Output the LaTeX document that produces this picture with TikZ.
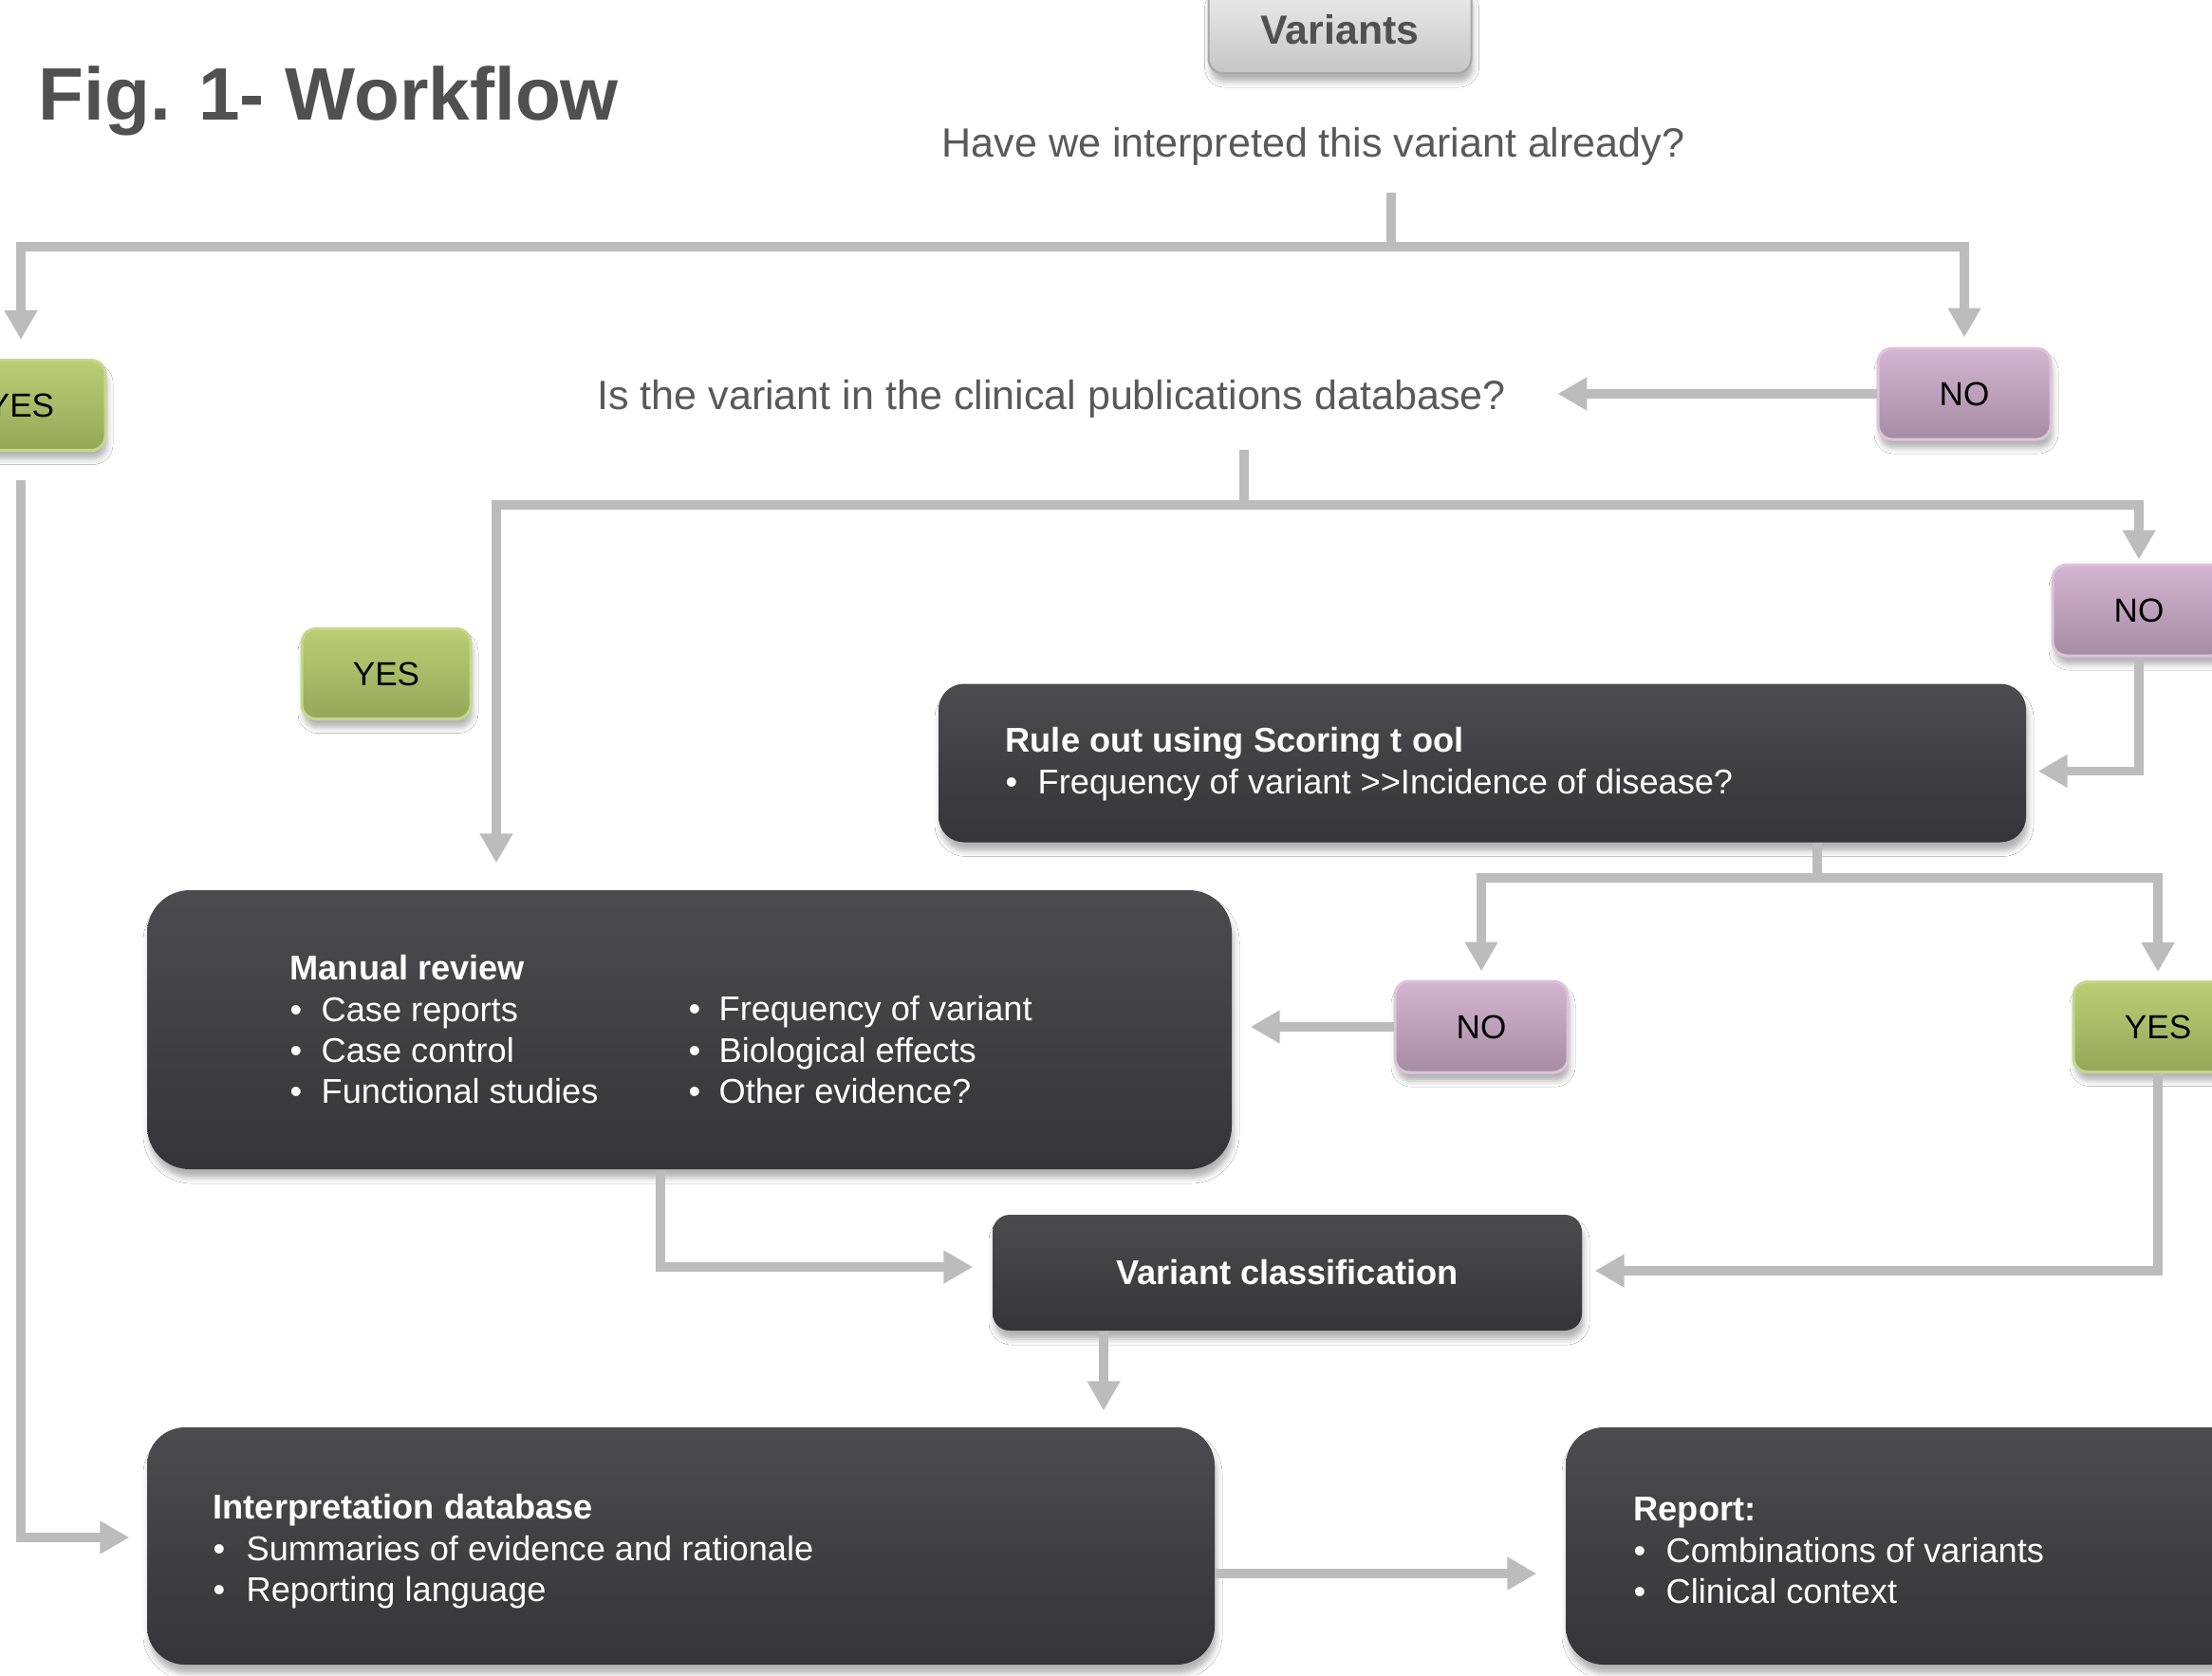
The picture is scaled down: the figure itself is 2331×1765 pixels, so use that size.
\documentclass[tikz,border=0pt]{standalone}
\usepackage{fontspec}
\setmainfont{Liberation Sans}
\usetikzlibrary{arrows.meta,shadows.blur,calc}
\definecolor{darktop}{HTML}{4C4C4E}
\definecolor{darkbot}{HTML}{353537}
\definecolor{greentop}{HTML}{BBCE74}
\definecolor{greenbot}{HTML}{95A758}
\definecolor{greenedge}{HTML}{C7D68E}
\definecolor{purptop}{HTML}{D4B5D1}
\definecolor{purpbot}{HTML}{A68BA4}
\definecolor{purpedge}{HTML}{DCC4D9}
\definecolor{vartop}{HTML}{EDEDED}
\definecolor{varbot}{HTML}{C5C5C5}
\definecolor{lineg}{HTML}{BCBCBC}
\definecolor{titlegray}{HTML}{505050}
\definecolor{qgray}{HTML}{595959}
\begin{document}
\begin{tikzpicture}[x=0.1mm,y=-0.1mm,
  conn/.style={draw=lineg, line width=0.95mm, -{Triangle[width=3.3mm,length=3.1mm]}},
  plainline/.style={draw=lineg, line width=0.95mm},
  shad/.style={blur shadow={shadow xshift=0.2mm, shadow yshift=-0.9mm, shadow blur radius=0.6mm, shadow opacity=30}},
  darkbox/.style={rectangle, rounded corners=4.5mm, top color=darktop, bottom color=darkbot, shad, inner sep=0pt},
  yesbox/.style={rectangle, rounded corners=1.5mm, top color=greentop, bottom color=greenbot, draw=greenedge, line width=0.3mm, shad, minimum width=17.8mm, minimum height=9.5mm, inner sep=0pt, font=\fontsize{10}{12}\selectfont, text=black},
  nobox/.style={rectangle, rounded corners=1.5mm, top color=purptop, bottom color=purpbot, draw=purpedge, line width=0.3mm, shad, minimum width=18.2mm, minimum height=9.6mm, inner sep=0pt, font=\fontsize{10}{12}\selectfont, text=black},
  varbox/.style={rectangle, rounded corners=1.5mm, top color=vartop, bottom color=varbot, draw=varbot!85!black, line width=0.2mm, shad, minimum width=27.7mm, minimum height=9.2mm, inner sep=0pt, font=\fontsize{12.2}{14}\selectfont\bfseries, text=titlegray},
  whitetxt/.style={text=white, font=\fontsize{10.3}{12.3}\selectfont, inner sep=0pt, anchor=north west, align=left},
  qtext/.style={text=qgray, font=\fontsize{12.25}{14}\selectfont, anchor=base},
]
\useasboundingbox (0,0) rectangle (2331,1765);
\fill[white] (0,0) rectangle (2331,1765);
\clip (0,0) rectangle (2331,1765);

% title
\node[anchor=base west, inner sep=0pt, font=\fontsize{22.3}{26}\selectfont\bfseries, text=titlegray] (title) at (40,126) {Fig. 1- Workflow};

% boxes
\node[varbox] (variants) at (1412,31) {Variants};
\node[qtext, inner xsep=0pt, inner ysep=2.8mm] (q1) at (1384,165) {Have we interpreted this variant already?};
\node[yesbox] (yes1) at (22,427) {YES};
\node[nobox] (no1) at (2070,415) {NO};
\node[qtext, inner xsep=5.4mm, inner ysep=3.3mm] (q2) at (1108,431) {Is the variant in the clinical publications database?};
\node[nobox] (no2) at (2254,643) {NO};
\node[yesbox] (yes2) at (407,710) {YES};

\node[darkbox, rounded corners=2.7mm, minimum width=114.6mm, minimum height=16.7mm] (ro) at (1562,804) {};
\node[whitetxt] (rotext) at (1059,762) {\strut\textbf{Rule out using Scoring t ool}\\\makebox[3.4mm][l]{•}Frequency of variant >\kern0pt>Incidence of disease?};

\node[nobox] (no3) at (1561,1082) {NO};
\node[yesbox] (yes3) at (2274,1082) {YES};

\node[darkbox, minimum width=114.3mm, minimum height=29.4mm] (mr) at (726.5,1085) {};
\node[whitetxt] (mrtext1) at (305,1002) {\strut\textbf{Manual review}\\\makebox[3.3mm][l]{•}Case reports\\\makebox[3.3mm][l]{•}Case control\\\makebox[3.3mm][l]{•}Functional studies};
\node[whitetxt] (mrtext2) at (725,1045) {\strut\makebox[3.2mm][l]{•}Frequency of variant\\\makebox[3.2mm][l]{•}Biological effects\\\makebox[3.2mm][l]{•}Other evidence?};

\node[darkbox, rounded corners=1.8mm, minimum width=62.1mm, minimum height=12.2mm, text=white, font=\fontsize{10.3}{12}\selectfont\bfseries] (vc) at (1356.5,1341) {Variant classification};

\node[darkbox, rounded corners=4mm, minimum width=112.5mm, minimum height=25mm] (idb) at (717.5,1629) {};
\node[whitetxt] (idbtext) at (224,1570) {\strut\textbf{Interpretation database}\\\makebox[3.5mm][l]{•}Summaries of evidence and rationale\\\makebox[3.5mm][l]{•}Reporting language};

\node[darkbox, rounded corners=4mm, minimum width=72mm, minimum height=25mm] (rep) at (2010,1629) {};
\node[whitetxt] (reptext) at (1721,1572) {\strut\textbf{Report:}\\\makebox[3.4mm][l]{•}Combinations of variants\\\makebox[3.4mm][l]{•}Clinical context};

% connectors
\coordinate (c1) at (1466,260);
\draw[plainline] (q1.south -| c1) -- (c1);
\draw[conn, shorten >=2mm] (c1) -| (yes1.north);
\draw[conn, shorten >=1mm] (c1) -| (no1.north);
\draw[conn] (no1.west) -- (no1.west -| q2.east);

\coordinate (c2) at (1311,532);
\coordinate (c2l) at (523,532);
\draw[plainline] (q2.south -| c2) -- (c2);
\draw[conn, shorten >=2.8mm] (c2) -- (c2l) -- (c2l |- mr.north);
\draw[conn, shorten >=0.4mm] (c2) -| (no2.north);
\draw[conn, shorten >=1.2mm] (no2.south) |- ([yshift=-0.85mm]ro.east);

\coordinate (c3) at (1915,925);
\draw[plainline] (ro.south -| c3) -- (c3);
\draw[conn, shorten >=0.9mm] (c3) -| (no3.north);
\draw[conn, shorten >=0.9mm] (c3) -| (yes3.north);
\draw[conn, shorten >=1.9mm] (no3.west) -- (no3.west -| mr.east);

\coordinate (c4) at (696,1335);
\draw[conn, shorten >=2mm] (mr.south -| c4) -- (c4) -- (c4 -| vc.west);
\draw[conn, shorten >=1.3mm] (yes3.south) |- ([yshift=0.2mm]vc.east);

\coordinate (c5) at (1163,1400);
\draw[conn, shorten >=1.7mm] (vc.south -| c5) -- (c5 |- idb.north);
\draw[conn, shorten <=3mm, shorten >=1.8mm] (yes1.south) |- ([yshift=0.9mm]idb.west);
\draw[conn, shorten >=3mm] ([yshift=-2.9mm]idb.east) -- ([yshift=-2.9mm]idb.east -| rep.west);
\end{tikzpicture}
\end{document}
